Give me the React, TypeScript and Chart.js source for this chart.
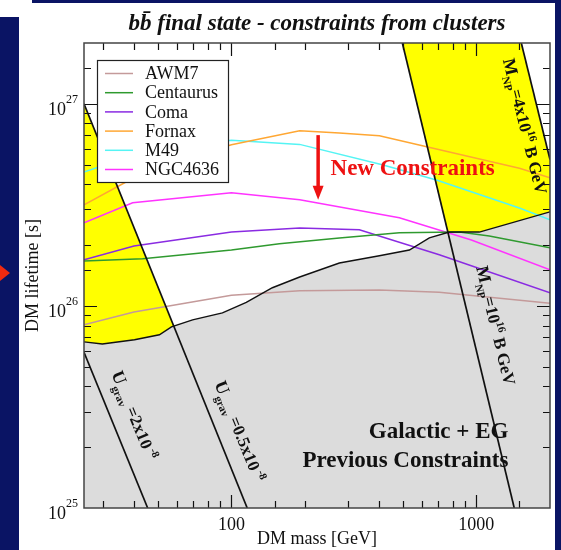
import React, { useEffect, useRef } from "react";
import { Chart, registerables } from "chart.js";
Chart.register(...registerables);

const FONT = "'Liberation Serif', 'Times New Roman', Times, serif";
const NAVY = "#0a1464";
const YELLOW = "#ffff00";
const GRAY = "#dcdcdc";

// axis ranges
const xMin = 25;
const xMax = 2000;
const yMin = 1e25;
const yMax = 2e27;

// tick labels
const xTickLabels = [100, 1000];
const yTickExponents = [25, 26, 27];

// cluster series
const seriesNames = ["AWM7", "Centaurus", "Coma", "Fornax", "M49", "NGC4636"];
const seriesColors = ["#c49a9a", "#2f9a2f", "#8a2be2", "#ffa733", "#55f4f4", "#ff33ff"];

const awm7Mass = [25, 40, 100, 190, 402, 706, 2000];
const awm7Tau = [8.06e25, 9.34e25, 1.13e26, 1.19e26, 1.2e26, 1.17e26, 1.03e26];

const centaurusMass = [25, 43.4, 100, 157, 276, 485, 853, 1130, 2000];
const centaurusTau = [1.67e26, 1.71e26, 1.89e26, 2.03e26, 2.17e26, 2.3e26, 2.32e26, 2.22e26, 1.94e26];

const comaMass = [25, 40, 100, 190, 333, 706, 2000];
const comaTau = [1.69e26, 1.98e26, 2.32e26, 2.43e26, 2.38e26, 1.79e26, 1.16e26];

const fornaxMass = [25, 38.4, 55.8, 100, 190, 276, 402, 776, 1500, 2000];
const fornaxTau = [3.16e26, 4.2e26, 5.1e26, 6.27e26, 7.35e26, 7.18e26, 6.95e26, 5.78e26, 4.8e26, 4.3e26];

const m49Mass = [25, 46, 100, 190, 413, 687, 1500, 2000];
const m49Tau = [4.6e26, 5.9e26, 6.6e26, 6.3e26, 5.0e26, 4.2e26, 3.05e26, 2.67e26];

const ngc4636Mass = [25, 39.5, 100, 190, 485, 955, 2000];
const ngc4636Tau = [2.58e26, 3.24e26, 3.63e26, 3.35e26, 2.73e26, 2.12e26, 1.51e26];

// previous (Galactic + EG) constraint boundary
const boundaryMass = [25, 29.7, 40.2, 50.8, 56.9, 69.4, 91.9, 115, 147, 190, 276, 402, 533, 643, 776, 1029, 2000];
const boundaryTau = [6.64e25, 6.48e25, 6.8e25, 7.2e25, 7.87e25, 8.53e25, 9.23e25, 1.04e26, 1.23e26, 1.39e26, 1.63e26, 1.77e26, 1.89e26, 2.17e26, 2.32e26, 2.32e26, 2.92e26];

// theory lines
const ugrav2Mass = [25, 45.5];
const ugrav2Tau = [5.9e25, 1e25];
const ugrav05Mass = [25, 116];
const ugrav05Tau = [1e27, 1e25];
const mnp1Mass = [499, 1429];
const mnp1Tau = [2e27, 1e25];
const mnp4Mass = [1527, 2000];
const mnp4Tau = [2e27, 5.3e26];

// annotation anchors (data coordinates)
const arrowMass = 226;
const arrowTau = [7.0e26, 3.35e26];
const newConstraintsAnchor = [254, 4.46e26];
const previousAnchor = [1352, 2.22e25, 1.6e25];

const pts = (ms: number[], ts: number[]) => ms.map((m, i) => ({ x: m, y: ts[i] }));

type Seg = { t: string; size: number; dy: number; bold?: boolean };

function drawRich(ctx: CanvasRenderingContext2D, segs: Seg[], x: number, y: number, angle: number, yOff: number) {
  ctx.save();
  ctx.translate(x, y);
  ctx.rotate(angle);
  ctx.textBaseline = "alphabetic";
  ctx.textAlign = "left";
  const widths = segs.map((s) => {
    ctx.font = `${s.bold ? "bold " : ""}${s.size}px ${FONT}`;
    return ctx.measureText(s.t).width;
  });
  const total = widths.reduce((a, b) => a + b, 0);
  let cx = -total / 2;
  segs.forEach((s, i) => {
    ctx.font = `${s.bold ? "bold " : ""}${s.size}px ${FONT}`;
    ctx.fillText(s.t, cx, yOff + s.dy);
    cx += widths[i];
  });
  ctx.restore();
}

const decorPlugin = {
  id: "decor",
  beforeDatasetsDraw(chart: any) {
    const { ctx, chartArea: a, scales } = chart;
    const x = scales.x;
    const y = scales.y;
    const P = (m: number, t: number) => [x.getPixelForValue(m), y.getPixelForValue(t)];
    ctx.save();
    ctx.beginPath();
    ctx.rect(a.left, a.top, a.right - a.left, a.bottom - a.top);
    ctx.clip();
    const poly = (p: number[][], color: string) => {
      ctx.beginPath();
      p.forEach(([px, py], i) => (i ? ctx.lineTo(px, py) : ctx.moveTo(px, py)));
      ctx.closePath();
      ctx.fillStyle = color;
      ctx.fill();
    };
    poly([P(ugrav05Mass[0], ugrav05Tau[0]), P(ugrav05Mass[1], ugrav05Tau[1]), P(xMin, yMin)], YELLOW);
    poly(
      [
        P(mnp1Mass[0], mnp1Tau[0]),
        P(mnp4Mass[0], mnp4Tau[0]),
        P(mnp4Mass[1], mnp4Tau[1]),
        P(xMax, yMin),
        P(mnp1Mass[1], mnp1Tau[1]),
      ],
      YELLOW
    );
    const g = boundaryMass.map((m, i) => P(m, boundaryTau[i]));
    poly([...g, P(xMax, yMin), P(xMin, yMin)], GRAY);
    ctx.restore();
  },
  afterDatasetsDraw(chart: any) {
    const { ctx, chartArea: a, scales } = chart;
    const x = scales.x;
    const y = scales.y;
    const P = (m: number, t: number) => [x.getPixelForValue(m), y.getPixelForValue(t)];
    ctx.save();

    // rotated line labels
    ctx.fillStyle = "#111";
    const along = (m: number[], t: number[], f: number) => {
      const [x1, y1] = P(m[0], t[0]);
      const [x2, y2] = P(m[1], t[1]);
      return { px: x1 + (x2 - x1) * f, py: y1 + (y2 - y1) * f, ang: Math.atan2(y2 - y1, x2 - x1) };
    };
    let l = along(ugrav2Mass, ugrav2Tau, 0.46);
    drawRich(ctx, [
      { t: "U", size: 18, dy: 0, bold: true },
      { t: "grav", size: 11, dy: 5, bold: true },
      { t: " =2x10", size: 17, dy: 0, bold: true },
      { t: " -8", size: 11, dy: -7, bold: true },
    ], l.px, l.py, l.ang, -17);
    l = along(ugrav05Mass, ugrav05Tau, 0.83);
    drawRich(ctx, [
      { t: "U", size: 18, dy: 0, bold: true },
      { t: "grav", size: 11, dy: 5, bold: true },
      { t: " =0.5x10", size: 17, dy: 0, bold: true },
      { t: " -8", size: 11, dy: -7, bold: true },
    ], l.px, l.py, l.ang, -16);
    {
      const [x1, y1] = P(mnp4Mass[0], mnp4Tau[0]);
      const [x2, y2] = P(mnp4Mass[1], mnp4Tau[1]);
      const ang = Math.atan2(y2 - y1, x2 - x1);
      const f = 0.68;
      drawRich(ctx, [
        { t: "M", size: 18, dy: 0, bold: true },
        { t: "NP", size: 11, dy: 5, bold: true },
        { t: "=4x10", size: 17, dy: 0, bold: true },
        { t: "16", size: 11, dy: -7, bold: true },
        { t: " B GeV", size: 17, dy: 0, bold: true },
      ], x1 + (x2 - x1) * f, y1 + (y2 - y1) * f, ang, 22);
    }
    l = along(mnp1Mass, mnp1Tau, 0.62);
    drawRich(ctx, [
      { t: "M", size: 18, dy: 0, bold: true },
      { t: "NP", size: 11, dy: 5, bold: true },
      { t: "=10", size: 17, dy: 0, bold: true },
      { t: "16", size: 11, dy: -7, bold: true },
      { t: " B GeV", size: 17, dy: 0, bold: true },
    ], l.px, l.py, l.ang, -19);

    // red arrow
    const [ax, ay1] = P(arrowMass, arrowTau[0]);
    const [, ay2] = P(arrowMass, arrowTau[1]);
    ctx.strokeStyle = "#ee1111";
    ctx.fillStyle = "#ee1111";
    ctx.lineWidth = 3.5;
    ctx.beginPath();
    ctx.moveTo(ax, ay1);
    ctx.lineTo(ax, ay2 - 12);
    ctx.stroke();
    ctx.beginPath();
    ctx.moveTo(ax - 5.5, ay2 - 14);
    ctx.lineTo(ax + 5.5, ay2 - 14);
    ctx.lineTo(ax, ay2);
    ctx.closePath();
    ctx.fill();

    // texts
    ctx.textBaseline = "alphabetic";
    ctx.font = `bold 23px ${FONT}`;
    ctx.textAlign = "left";
    const [nx, ny] = P(newConstraintsAnchor[0], newConstraintsAnchor[1]);
    ctx.fillText("New Constraints", nx, ny);
    ctx.fillStyle = "#111";
    ctx.textAlign = "right";
    const [gx, gy] = P(previousAnchor[0], previousAnchor[1]);
    const [, gy2] = P(previousAnchor[0], previousAnchor[2]);
    ctx.fillText("Galactic + EG", gx, gy);
    ctx.fillText("Previous Constraints", gx, gy2);

    // legend
    const lx = a.left + 13;
    const ly = a.top + 17;
    ctx.fillStyle = "#ffffff";
    ctx.fillRect(lx, ly, 131, 122);
    ctx.strokeStyle = "#222";
    ctx.lineWidth = 1.2;
    ctx.strokeRect(lx + 0.5, ly + 0.5, 131, 122);
    ctx.font = `18px ${FONT}`;
    ctx.textAlign = "left";
    ctx.textBaseline = "middle";
    seriesNames.forEach((name, i) => {
      const ry = ly + 13.5 + i * 19.2;
      ctx.strokeStyle = seriesColors[i];
      ctx.lineWidth = 1.5;
      ctx.beginPath();
      ctx.moveTo(lx + 8, ry);
      ctx.lineTo(lx + 36, ry);
      ctx.stroke();
      ctx.fillStyle = "#111";
      ctx.fillText(name, lx + 48, ry + 1);
    });

    // inward ticks
    ctx.strokeStyle = "#111";
    ctx.lineWidth = 1.2;
    const isMajor = (v: number) => Math.abs(Math.log10(v) - Math.round(Math.log10(v))) < 1e-6;
    x.ticks.forEach((tk: any) => {
      const v = tk.value;
      if (v <= xMin * 1.0001 || v >= xMax * 0.9999) return;
      const L = isMajor(v) ? 13 : 7;
      const px = Math.round(x.getPixelForValue(v)) + 0.5;
      ctx.beginPath();
      ctx.moveTo(px, a.bottom);
      ctx.lineTo(px, a.bottom - L);
      ctx.moveTo(px, a.top);
      ctx.lineTo(px, a.top + L);
      ctx.stroke();
    });
    y.ticks.forEach((tk: any) => {
      const v = tk.value;
      if (v <= yMin * 1.0001 || v >= yMax * 0.9999) return;
      const L = isMajor(v) ? 13 : 7;
      const py = Math.round(y.getPixelForValue(v)) + 0.5;
      ctx.beginPath();
      ctx.moveTo(a.left, py);
      ctx.lineTo(a.left + L, py);
      ctx.moveTo(a.right, py);
      ctx.lineTo(a.right - L, py);
      ctx.stroke();
    });

    // frame
    ctx.strokeStyle = "#444";
    ctx.lineWidth = 1.5;
    ctx.strokeRect(a.left, a.top, a.right - a.left, a.bottom - a.top);

    // y tick labels 10^n
    ctx.fillStyle = "#111";
    ctx.textBaseline = "alphabetic";
    yTickExponents.forEach((e) => {
      const py = y.getPixelForValue(Math.pow(10, e));
      ctx.font = `12px ${FONT}`;
      const ew = ctx.measureText(String(e)).width;
      const right = a.left - 6;
      ctx.textAlign = "right";
      ctx.fillText(String(e), right, py - 1);
      ctx.font = `18px ${FONT}`;
      ctx.fillText("10", right - ew, py + 11);
    });

    // title
    ctx.font = `bold italic 23px ${FONT}`;
    ctx.textAlign = "center";
    ctx.fillStyle = "#111";
    ctx.fillText("bb\u0304 final state - constraints from clusters", (a.left + a.right) / 2, 30);

    ctx.restore();
  },
};

export default function App() {
  const ref = useRef<HTMLCanvasElement>(null);
  useEffect(() => {
    const clusterData = [
      pts(awm7Mass, awm7Tau),
      pts(centaurusMass, centaurusTau),
      pts(comaMass, comaTau),
      pts(fornaxMass, fornaxTau),
      pts(m49Mass, m49Tau),
      pts(ngc4636Mass, ngc4636Tau),
    ];
    const black = (label: string, data: any[], w: number) => ({
      label,
      data,
      borderColor: "#111",
      borderWidth: w,
      pointRadius: 0,
      fill: false,
      tension: 0,
    });
    const datasets: any[] = [
      black("Ugrav=0.5e-8", pts(ugrav05Mass, ugrav05Tau), 1.7),
      black("Ugrav=2e-8", pts(ugrav2Mass, ugrav2Tau), 1.7),
      black("MNP=1e16", pts(mnp1Mass, mnp1Tau), 1.7),
      black("MNP=4e16", pts(mnp4Mass, mnp4Tau), 1.7),
      black("Previous constraints", pts(boundaryMass, boundaryTau), 1.4),
      ...clusterData.map((d, i) => ({
        label: seriesNames[i],
        data: d,
        borderColor: seriesColors[i],
        borderWidth: 1.5,
        pointRadius: 0,
        fill: false,
        tension: 0,
      })),
    ];
    const chart = new Chart(ref.current as HTMLCanvasElement, {
      type: "line",
      data: { datasets },
      plugins: [decorPlugin],
      options: {
        responsive: false,
        animation: false,
        devicePixelRatio: 1,
        events: [],
        layout: { padding: { left: 20, right: 11, top: 43, bottom: 0 } },
        plugins: { legend: { display: false }, title: { display: false }, tooltip: { enabled: false } },
        scales: {
          x: {
            type: "logarithmic",
            min: xMin,
            max: xMax,
            grid: { display: false, drawTicks: false },
            border: { display: false },
            ticks: {
              autoSkip: false,
              maxRotation: 0,
              padding: 6,
              color: "#111",
              font: { family: FONT, size: 18 },
              callback: (v: any) => {
                const lab = xTickLabels.find((t) => Math.abs(Number(v) - t) / t < 1e-6);
                return lab ? String(lab) : "";
              },
            },
            title: {
              display: true,
              text: "DM mass [GeV]",
              color: "#111",
              font: { family: FONT, size: 18 },
              padding: { top: 0, bottom: 0 },
            },
            afterFit: (s: any) => {
              s.height = 42;
            },
          },
          y: {
            type: "logarithmic",
            min: yMin,
            max: yMax,
            grid: { display: false, drawTicks: false },
            border: { display: false },
            ticks: { display: false },
            title: {
              display: true,
              text: "DM lifetime [s]",
              color: "#111",
              font: { family: FONT, size: 18 },
              padding: { top: 2, bottom: 0 },
            },
            afterFit: (s: any) => {
              s.width = 64;
            },
          },
        },
      } as any,
    });
    return () => chart.destroy();
  }, []);
  return (
    <div style={{ position: "fixed", left: 0, top: 0, width: 561, height: 550, background: "#fff", overflow: "hidden" }}>
      <div style={{ position: "absolute", left: 32, top: 0, width: 529, height: 3, background: NAVY }} />
      <div style={{ position: "absolute", left: 0, top: 17, width: 19, height: 533, background: NAVY }} />
      <div style={{ position: "absolute", left: 555, top: 0, width: 6, height: 550, background: NAVY }} />
      <div
        style={{
          position: "absolute",
          left: 0,
          top: 265,
          width: 10,
          height: 16,
          background: "#f02a10",
          clipPath: "polygon(0 0, 100% 50%, 0 100%)",
        }}
      />
      <canvas ref={ref} width={561} height={550} style={{ position: "absolute", left: 0, top: 0, width: 561, height: 550 }} />
    </div>
  );
}
